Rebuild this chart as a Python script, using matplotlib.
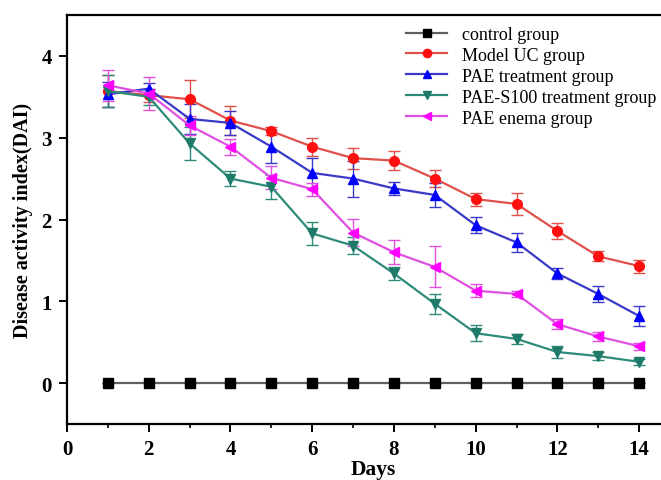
import matplotlib
matplotlib.use("Agg")
import matplotlib.pyplot as plt
from matplotlib.ticker import MultipleLocator

days = list(range(1, 15))

control = [0.0] * 14
control_err = [0.0] * 14

model_uc = [3.57, 3.52, 3.47, 3.21, 3.08, 2.89, 2.75, 2.72, 2.50, 2.25, 2.19, 1.86, 1.55, 1.43]
model_uc_err = [0.20, 0.08, 0.23, 0.18, 0.05, 0.11, 0.13, 0.12, 0.10, 0.08, 0.14, 0.10, 0.06, 0.08]

pae = [3.53, 3.60, 3.23, 3.18, 2.89, 2.57, 2.50, 2.38, 2.30, 1.93, 1.72, 1.34, 1.09, 0.82]
pae_err = [0.15, 0.07, 0.18, 0.15, 0.20, 0.18, 0.22, 0.08, 0.15, 0.10, 0.12, 0.07, 0.10, 0.12]

pae_s100 = [3.57, 3.50, 2.93, 2.50, 2.40, 1.83, 1.68, 1.34, 0.97, 0.61, 0.54, 0.38, 0.33, 0.26]
pae_s100_err = [0.20, 0.10, 0.20, 0.09, 0.15, 0.14, 0.10, 0.08, 0.12, 0.10, 0.06, 0.07, 0.05, 0.04]

pae_enema = [3.64, 3.54, 3.15, 2.89, 2.51, 2.37, 1.84, 1.60, 1.42, 1.13, 1.09, 0.72, 0.57, 0.45]
pae_enema_err = [0.19, 0.20, 0.12, 0.10, 0.14, 0.08, 0.17, 0.15, 0.25, 0.08, 0.04, 0.06, 0.05, 0.04]

labels = ["control group", "Model UC group", "PAE treatment group",
          "PAE-S100 treatment group", "PAE enema group"]

plt.rcParams['font.family'] = ['Liberation Serif', 'DejaVu Serif']

fig = plt.figure(figsize=(6.61, 4.81), dpi=100)
ax = fig.add_axes([67 / 661, (481 - 425) / 481, (680 - 67) / 661, (425 - 16) / 481])

series = [
    (control, control_err, '#606060', '#000000', 's'),
    (model_uc, model_uc_err, '#e0504a', '#ff1010', 'o'),
    (pae, pae_err, '#3a3ac8', '#0000ff', '^'),
    (pae_s100, pae_s100_err, '#2e8b7a', '#1f7a6a', 'v'),
    (pae_enema, pae_enema_err, '#e050e0', '#ff00ff', '<'),
]

handles = []
for (vals, errs, lc, mc, mk), lab in zip(series, labels):
    ax.errorbar(days, vals, yerr=errs, color=lc, marker=mk, markersize=7,
                markerfacecolor=mc, markeredgecolor=mc, linewidth=1.6,
                ecolor=lc, elinewidth=1.0, capsize=4, capthick=1.0)
    # legend handle without the error bar
    line, = ax.plot([], [], color=lc, marker=mk, markersize=6,
                    markerfacecolor=mc, markeredgecolor=mc, linewidth=1.6)
    handles.append(line)

ax.set_xlim(0, 15)
ax.set_ylim(-0.5, 4.5)
ax.xaxis.set_major_locator(MultipleLocator(2))
ax.xaxis.set_minor_locator(MultipleLocator(1))
ax.yaxis.set_major_locator(MultipleLocator(1))
ax.yaxis.set_minor_locator(MultipleLocator(0.5))

for s in ax.spines.values():
    s.set_linewidth(1.6)

ax.tick_params(axis='both', which='major', direction='out', length=6, width=1.4,
               labelsize=15, pad=5)
ax.tick_params(axis='both', which='minor', direction='out', length=3, width=1.2)
ax.tick_params(axis='y', which='minor', length=0)
for t in ax.get_xticklabels() + ax.get_yticklabels():
    t.set_fontweight('bold')

ax.set_xlabel("Days", fontsize=15.5, fontweight='bold', labelpad=0)
ax.set_ylabel("Disease activity index(DAI)", fontsize=14.5, fontweight='bold', labelpad=6)

ax.legend(handles, labels, loc='upper left', bbox_to_anchor=(0.535, 1.0),
          frameon=False, fontsize=13, labelspacing=0.22,
          handlelength=2.3, handletextpad=0.8, borderaxespad=0.2)

fig.savefig("out.png", dpi=100)
